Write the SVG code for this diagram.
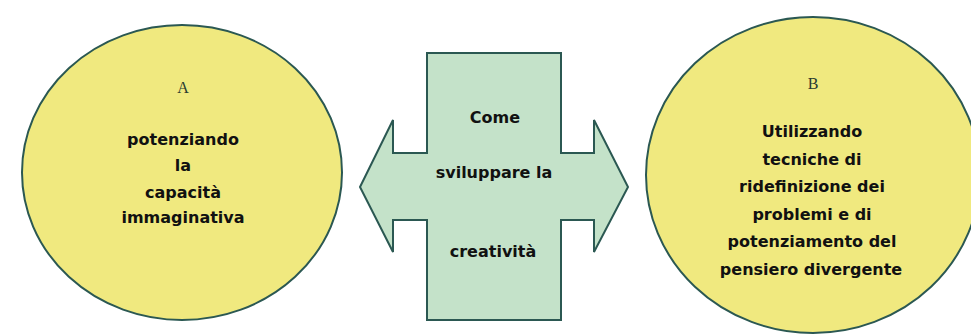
<svg xmlns="http://www.w3.org/2000/svg" width="971" height="335" viewBox="0 0 971 335">
<style>
.ell{fill:#F0E97F;stroke:#2B5852;stroke-width:2}
.arr{fill:#C4E2C9;stroke:#2B5852;stroke-width:2;stroke-linejoin:miter}
.t{font-family:"Comic Sans MS","DejaVu Sans",sans-serif;font-weight:bold;font-size:16px;fill:#111;text-anchor:middle}
.s{font-family:"Liberation Serif","Times New Roman",serif;font-size:16px;fill:#2a3a30;text-anchor:middle}
</style>
<rect width="971" height="335" fill="#ffffff"/>
<g id="nodeA">
<ellipse class="ell" cx="182" cy="172.5" rx="160" ry="147.5"/>
<text class="s" x="183" y="93">A</text>
<text class="t" x="183" y="145">potenziando</text>
<text class="t" x="183" y="171">la</text>
<text class="t" x="183" y="198">capacità</text>
<text class="t" x="183" y="223">immaginativa</text>
</g>
<g id="nodeB">
<ellipse class="ell" cx="813" cy="175" rx="167" ry="158"/>
<text class="s" x="813" y="89">B</text>
<text class="t" x="812" y="137">Utilizzando</text>
<text class="t" x="812" y="164.6">tecniche di</text>
<text class="t" x="812" y="192.2">ridefinizione dei</text>
<text class="t" x="812" y="219.8">problemi e di</text>
<text class="t" x="812" y="247.4">potenziamento del</text>
<text class="t" x="811" y="275">pensiero divergente</text>
</g>
<g id="connectors">
<g id="center">
<polygon class="arr" points="360,187 393,120 393,153 427,153 427,53 561,53 561,153 594,153 594,120 628,187 594,252 594,220 561,220 561,320 427,320 427,220 393,220 393,252"/>
<text class="t" x="495" y="123">Come</text>
<text class="t" x="494" y="178">sviluppare la</text>
<text class="t" x="493" y="257">creatività</text>
</g>
</g>
</svg>
